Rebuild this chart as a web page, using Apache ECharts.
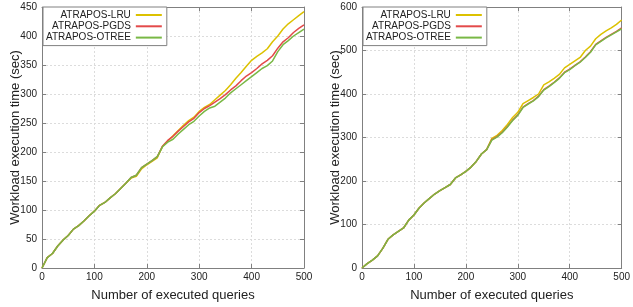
<!DOCTYPE html>
<html>
<head>
<meta charset="utf-8">
<script src="https://cdn.jsdelivr.net/npm/echarts@6/dist/echarts.min.js"></script>
<style>
  html, body { margin: 0; padding: 0; background: #fff; }
  #main { width: 633px; height: 307px; }
</style>
</head>
<body>
<div id="main"></div>
<script>
  // number of executed queries (x)
  var queries = [0,10,20,30,40,50,60,70,80,90,100,110,120,130,140,150,160,170,180,190,200,
    210,220,230,240,250,260,270,280,290,300,310,320,330,340,350,360,370,380,390,400,
    410,420,430,440,450,460,470,480,490,500];

  // left panel: workload execution time (sec)
  var lruLeft = [0,18,25,38,48,56,67,73,81,90,98,108,113,121,128,137,146,155,158,171,178,
    184,190,210,219,228,237,246,254,260,270,277,282,290,298,306,316,327,337,348,358,
    365,371,378,390,400,412,421,428,435,442];
  var pgdsLeft = [0,18,25,38,48,56,67,73,81,90,98,108,113,121,128,137,146,156,160,173,179,
    185,192,210,220,227,236,244,252,258,268,275,280,286,292,299,307,314,323,331,337,
    344,352,358,366,379,390,397,406,413,419];
  var otreeLeft = [0,18,25,38,48,56,67,73,81,90,98,108,113,121,128,137,146,156,160,173,179,
    185,192,209,217,222,231,239,247,253,262,270,276,279,286,293,302,309,316,323,330,
    337,344,349,357,373,385,392,400,406,412];

  // right panel
  var lruRight = [0,10,18,28,45,66,76,84,92,110,122,138,150,160,170,178,185,192,207,214,222,
    232,245,262,272,298,305,316,330,346,358,378,385,392,400,421,428,436,445,460,468,
    476,484,500,510,527,537,545,552,560,570];
  var pgdsRight = [0,10,18,28,45,66,76,84,92,110,122,138,150,160,170,178,185,192,207,214,222,
    232,245,262,272,295,302,312,325,340,352,370,378,385,395,410,418,427,437,450,457,
    466,474,485,497,514,522,530,537,544,552];
  var otreeRight = [0,10,18,28,45,66,76,84,92,110,122,138,150,160,170,178,185,192,207,214,222,
    232,245,262,272,294,301,311,324,339,351,369,377,384,394,409,417,426,436,449,456,
    465,473,484,496,513,521,529,536,543,550];

  var seriesNames = ['ATRAPOS-LRU', 'ATRAPOS-PGDS', 'ATRAPOS-OTREE'];
  var seriesColors = ['#dcc100', '#e34a4a', '#79b845'];

  function pairs(ys) {
    var out = [];
    for (var i = 0; i < queries.length; i++) {
      out.push([queries[i], ys[i]]);
    }
    return out;
  }

  var font = 'Liberation Sans, Arial, sans-serif';
  var frame = '#808080';
  var ink = '#222';

  function mainX(gridIndex) {
    return {
      type: 'value', gridIndex: gridIndex, min: 0, max: 500, interval: 100,
      name: 'Number of executed queries', nameLocation: 'middle', nameGap: 21,
      nameMoveOverlap: false,
      nameTextStyle: { fontFamily: font, fontSize: 13, color: ink },
      axisLine: { show: true, onZero: false, lineStyle: { color: frame, width: 1 } },
      axisTick: { show: true, inside: true, length: 4, lineStyle: { color: frame } },
      axisLabel: { fontFamily: font, fontSize: 10, color: ink, margin: 4 },
      splitLine: { show: true, lineStyle: { color: '#dcdcdc', type: [2, 2] } }
    };
  }
  function mirrorX(gridIndex) {
    return {
      type: 'value', gridIndex: gridIndex, position: 'top', min: 0, max: 500, interval: 100,
      axisLine: { show: true, onZero: false, lineStyle: { color: frame, width: 1 } },
      axisTick: { show: true, inside: true, length: 4, lineStyle: { color: frame } },
      axisLabel: { show: false },
      splitLine: { show: false }
    };
  }
  function mainY(gridIndex, max, interval) {
    return {
      type: 'value', gridIndex: gridIndex, min: 0, max: max, interval: interval,
      name: 'Workload execution time (sec)', nameLocation: 'middle', nameGap: 20,
      nameMoveOverlap: false,
      nameTextStyle: { fontFamily: font, fontSize: 13, color: ink },
      axisLine: { show: true, onZero: false, lineStyle: { color: frame, width: 1 } },
      axisTick: { show: true, inside: true, length: 4, lineStyle: { color: frame } },
      axisLabel: { fontFamily: font, fontSize: 10, color: ink, margin: 5 },
      splitLine: { show: true, lineStyle: { color: '#dcdcdc', type: [2, 2] } }
    };
  }
  function mirrorY(gridIndex, max, interval) {
    return {
      type: 'value', gridIndex: gridIndex, position: 'right', min: 0, max: max, interval: interval,
      axisLine: { show: true, onZero: false, lineStyle: { color: frame, width: 1 } },
      axisTick: { show: true, inside: true, length: 4, lineStyle: { color: frame } },
      axisLabel: { show: false },
      splitLine: { show: false }
    };
  }
  // gnuplot-style key: text right-aligned, line sample on the right
  function legendAt(left) {
    return {
      orient: 'vertical', left: left, top: 7, align: 'right',
      itemWidth: 26, itemHeight: 10, itemGap: 1.3,
      padding: [3, 4, 3, 3],
      backgroundColor: '#fff', borderColor: frame, borderWidth: 1,
      itemStyle: { opacity: 0 },
      textStyle: { fontFamily: font, fontSize: 10, color: ink },
      data: seriesNames
    };
  }
  function line(name, color, xi, ys) {
    return {
      name: name, type: 'line', xAxisIndex: xi, yAxisIndex: xi,
      symbol: 'none', animation: false, color: color,
      lineStyle: { color: color, width: 1.5 },
      data: pairs(ys)
    };
  }

  var myChart = echarts.init(document.getElementById('main'));
  var option = {
    backgroundColor: '#fff',
    animation: false,
    grid: [
      { left: 42, right: 329, top: 7, bottom: 38 },
      { left: 362, right: 9, top: 7, bottom: 38 }
    ],
    legend: [legendAt(43), legendAt(363)],
    xAxis: [mainX(0), mainX(1), mirrorX(0), mirrorX(1)],
    yAxis: [mainY(0, 450, 50), mainY(1, 600, 100), mirrorY(0, 450, 50), mirrorY(1, 600, 100)],
    series: [
      line(seriesNames[0], seriesColors[0], 0, lruLeft),
      line(seriesNames[1], seriesColors[1], 0, pgdsLeft),
      line(seriesNames[2], seriesColors[2], 0, otreeLeft),
      line(seriesNames[0], seriesColors[0], 1, lruRight),
      line(seriesNames[1], seriesColors[1], 1, pgdsRight),
      line(seriesNames[2], seriesColors[2], 1, otreeRight)
    ]
  };
  myChart.setOption(option, true);
</script>
</body>
</html>
